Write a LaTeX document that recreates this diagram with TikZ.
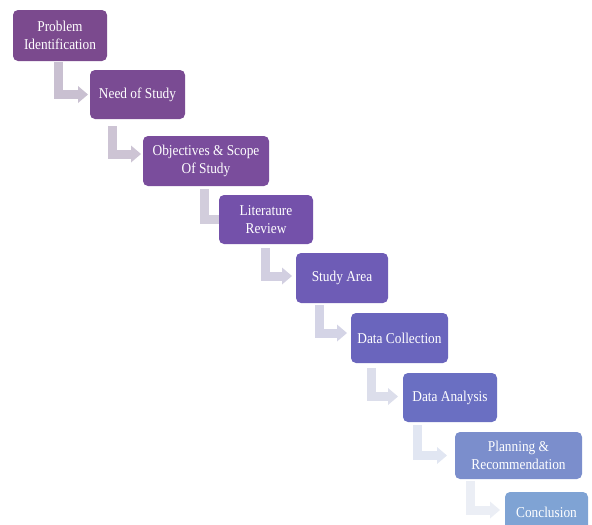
\documentclass[tikz,border=0pt]{standalone}
\usepackage{fontspec}
\setmainfont{Liberation Serif}[FakeStretch=0.89]
\usetikzlibrary{arrows.meta,calc}
\pgfdeclarelayer{bg}
\pgfsetlayers{bg,main}
\definecolor{c1}{HTML}{7B4A8E}
\definecolor{c2}{HTML}{7A4B93}
\definecolor{c3}{HTML}{7A4D9C}
\definecolor{c4}{HTML}{7451AA}
\definecolor{c5}{HTML}{6E5CB6}
\definecolor{c6}{HTML}{6A65BD}
\definecolor{c7}{HTML}{6A6FC2}
\definecolor{c8}{HTML}{7B8ECC}
\definecolor{c9}{HTML}{7FA3D4}
\definecolor{a1}{HTML}{C9C0D1}
\definecolor{a2}{HTML}{CDC4D4}
\definecolor{a3}{HTML}{D2CDDC}
\definecolor{a4}{HTML}{D2CFE1}
\definecolor{a5}{HTML}{D4D4E6}
\definecolor{a6}{HTML}{DCDEEB}
\definecolor{a7}{HTML}{E1E6F2}
\definecolor{a8}{HTML}{EBEEF5}
\tikzset{
  stepbox/.style={rounded corners=5pt, text=white, align=center,
    font=\fontsize{15}{18.5}\selectfont, inner sep=0pt, outer sep=0pt},
  larrow/.style={draw=#1, line width=9pt, line cap=butt, line join=miter,
    -{Triangle[width=17pt,length=10pt,line width=0pt]}}
}
\begin{document}
\begin{tikzpicture}[x=1pt,y=-1pt]
\useasboundingbox (0,0) rectangle (592,525);
\begin{scope}
\clip (0,0) rectangle (592,525);
\path
  node[stepbox, fill=c1, minimum width=94pt, minimum height=51pt] (b1) at (60,35.5) {Problem\\Identification}
  node[stepbox, fill=c2, minimum width=95pt, minimum height=49pt] (b2) at (137.5,94.5) {Need of Study}
  node[stepbox, fill=c3, minimum width=126pt, minimum height=50pt] (b3) at (206,161) {Objectives \& Scope\\Of Study}
  node[stepbox, fill=c4, minimum width=94pt, minimum height=49pt] (b4) at (266,219.5) {Literature\\Review}
  node[stepbox, fill=c5, minimum width=92pt, minimum height=50pt] (b5) at (342,278) {Study Area}
  node[stepbox, fill=c6, minimum width=97pt, minimum height=50pt] (b6) at (399.5,338) {Data Collection}
  node[stepbox, fill=c7, minimum width=94pt, minimum height=49pt] (b7) at (450,397.5) {Data Analysis}
  node[stepbox, fill=c8, minimum width=127pt, minimum height=47pt] (b8) at (518.5,455.5) {Planning \&\\Recommendation}
  node[stepbox, fill=c9, minimum width=83pt, minimum height=40pt] (b9) at (546.5,512) {Conclusion};
\end{scope}
\begin{pgfonlayer}{bg}
\draw[larrow=a1] ($(b2.west |- b1.south)+(-32,1)$) |- ($(b2.west)+(-2,0)$);
\draw[larrow=a2] ($(b3.west |- b2.south)+(-31,7)$) |- ($(b3.west)+(-2,-7)$);
\draw[larrow=a3] ($(b4.west |- b3.south)+(-15,3)$) |- ($(b4.west)+(10,0)$);
\draw[larrow=a4] ($(b5.west |- b4.south)+(-31,4)$) |- ($(b5.west)+(-4,-2)$);
\draw[larrow=a5] ($(b6.west |- b5.south)+(-32,2)$) |- ($(b6.west)+(-4,-5)$);
\draw[larrow=a6] ($(b7.west |- b6.south)+(-32,5)$) |- ($(b7.west)+(-5,-1)$);
\draw[larrow=a7] ($(b8.west |- b7.south)+(-38,3)$) |- ($(b8.west)+(-8,0)$);
\draw[larrow=a8] ($(b9.west |- b8.south)+(-35,2)$) |- ($(b9.west)+(-5,-2)$);
\end{pgfonlayer}
\end{tikzpicture}
\end{document}
